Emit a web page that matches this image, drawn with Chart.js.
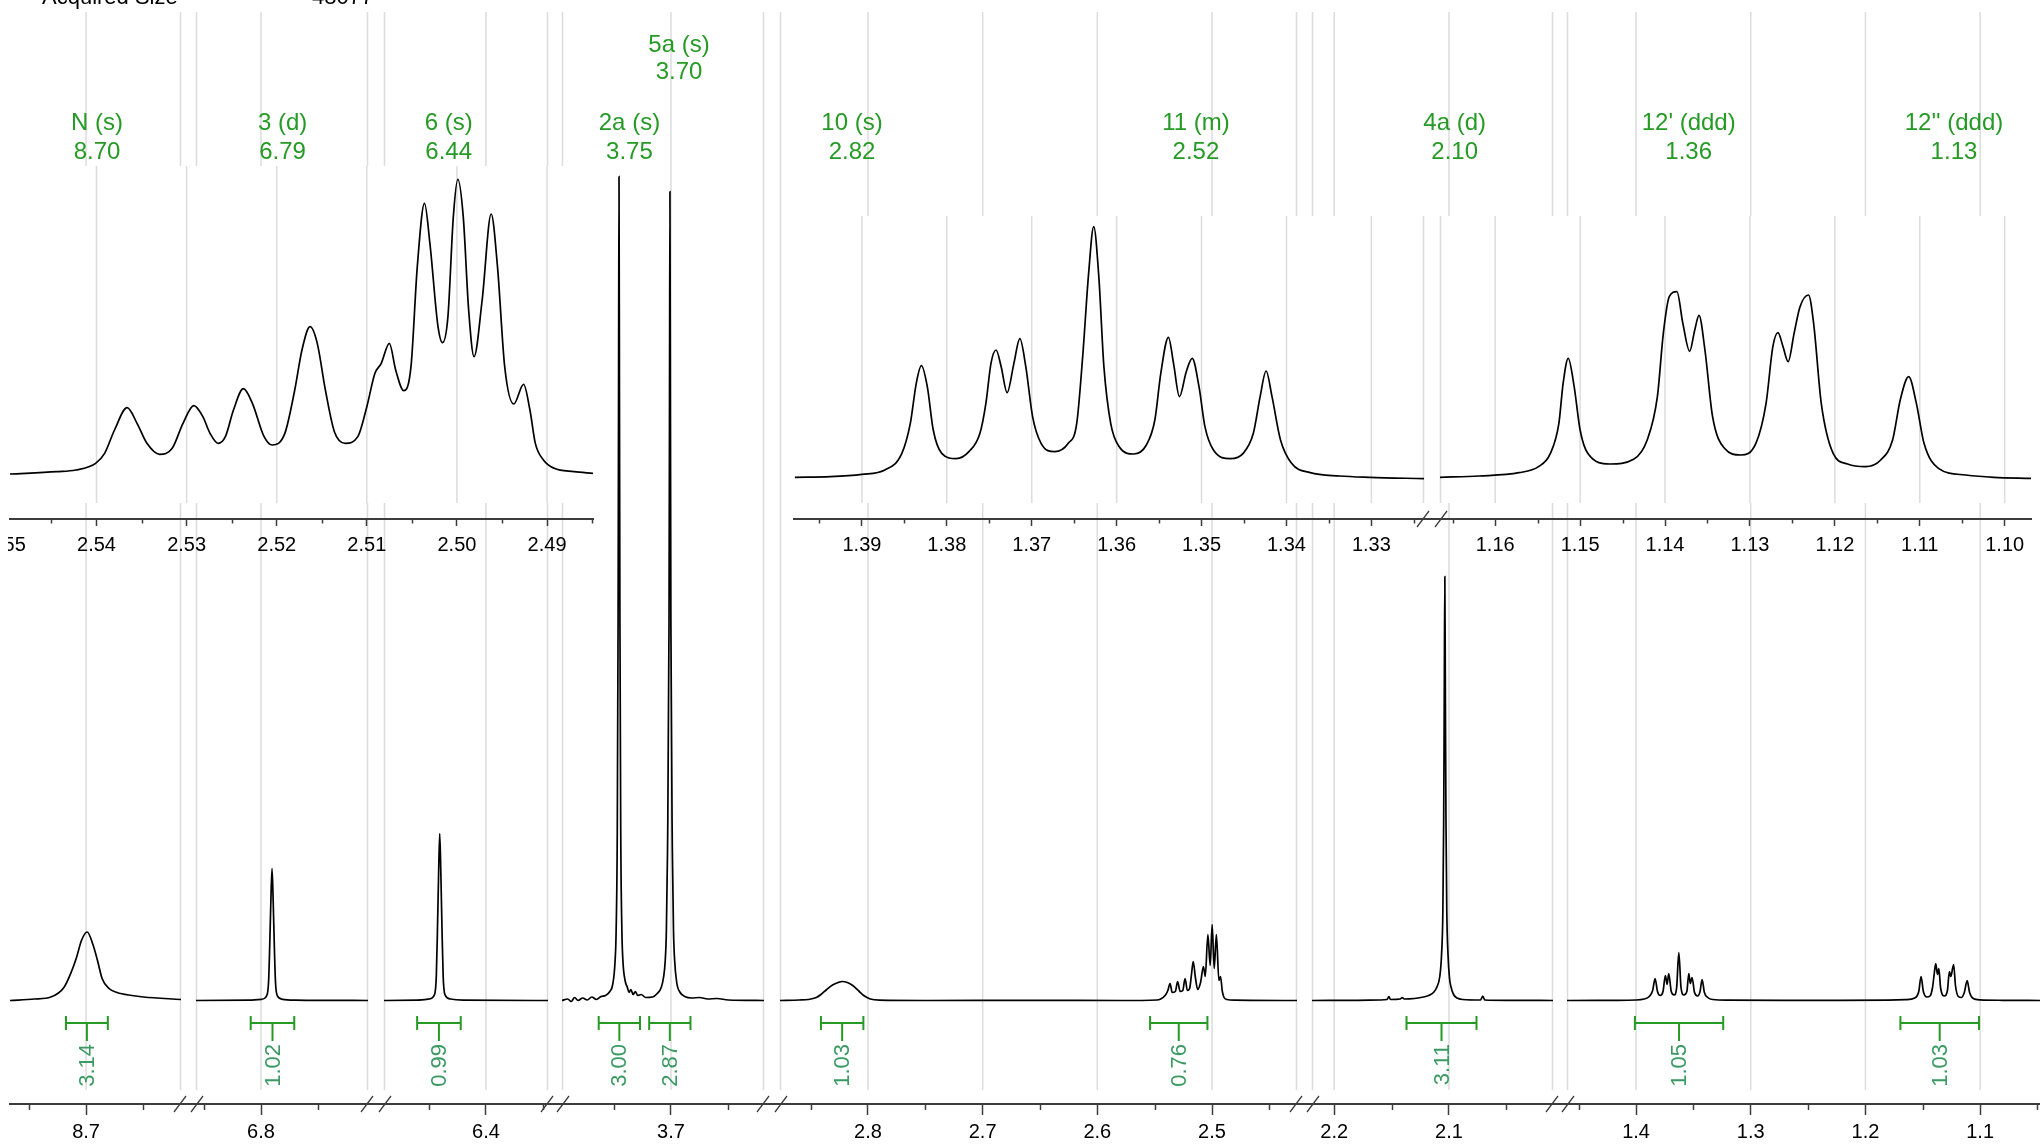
<!DOCTYPE html>
<html>
<head>
<meta charset="utf-8">
<script src="https://cdn.jsdelivr.net/npm/chart.js"></script>
<style>
html, body { margin: 0; padding: 0; background: #fff; }
#stage { position: relative; width: 2040px; height: 1145px; overflow: hidden; background: #fff; }
#stage canvas { position: absolute; left: 0; top: 0; }
</style>
</head>
<body>
<div id="stage"></div>
<script>
// spectrum traces, [ppm, intensity]
const peakNH = [[8.7663,0],[8.745,0.15],[8.7307,0.35],[8.7193,1.3],[8.7127,2.9],[8.7083,4.3],[8.704,6.0],[8.699,6.85],[8.694,5.6],[8.690,4.0],[8.686,2.2],[8.680,1.2],[8.673,0.8],[8.660,0.5],[8.650,0.35],[8.6172,0.1]];
const peakH3 = [[6.8567,0],[6.81,0.04],[6.7996,0.12],[6.7949,0.5],[6.7934,1.9],[6.7924,5.5],[6.7914,10],[6.7904,13.2],[6.7894,10],[6.7884,5.5],[6.7874,1.9],[6.7859,0.5],[6.7812,0.12],[6.77,0.04],[6.7067,0]];
const peakH6 = [[6.4889,0],[6.46,0.04],[6.4495,0.15],[6.4448,0.6],[6.4433,2.4],[6.4423,7],[6.4413,12.6],[6.4403,16.7],[6.4393,12.6],[6.4383,7],[6.4373,2.4],[6.4358,0.6],[6.431,0.15],[6.42,0.04],[6.3459,0]];
const peaksH2aH5a = [[3.795,0],[3.790,0.15],[3.787,-0.1],[3.784,0.3],[3.781,0.0],[3.777,0.25],[3.773,0.05],[3.769,0.35],[3.765,0.1],[3.761,0.4],[3.757,0.5],[3.7533,0.9],[3.7508,1.6],[3.7488,3.8],[3.7478,7],[3.7468,17],[3.7461,38],[3.7457,60],[3.7453,82.4],[3.7449,60],[3.7445,38],[3.7438,17],[3.7428,7],[3.7418,3.8],[3.7400,2.0],[3.738,1.3],[3.7365,0.8],[3.735,1.1],[3.733,0.6],[3.731,0.9],[3.729,0.5],[3.726,0.6],[3.722,0.3],[3.716,0.35],[3.712,0.7],[3.7085,1.3],[3.7065,2.3],[3.7050,4],[3.7040,7],[3.7030,15],[3.7017,38],[3.7013,58],[3.7009,80.9],[3.7005,58],[3.7001,38],[3.6988,15],[3.6978,7],[3.6968,4],[3.6950,1.8],[3.692,0.8],[3.688,0.4],[3.682,0.25],[3.675,0.3],[3.668,0.15],[3.66,0.2],[3.65,0.05],[3.6189,0]];
const peaksH10H11 = [[2.8767,0],[2.86,0.05],[2.852,0.1],[2.845,0.3],[2.841,0.6],[2.836,1.1],[2.8309,1.55],[2.826,1.8],[2.8223,1.9],[2.818,1.8],[2.8133,1.5],[2.808,0.95],[2.8037,0.5],[2.798,0.15],[2.79,0.03],[2.75,0],[2.65,0.02],[2.58,0],[2.548,0.05],[2.5448,0.15],[2.5409,0.5],[2.5385,1.0],[2.5366,1.7],[2.5347,0.8],[2.5320,0.9],[2.5300,1.9],[2.5278,0.9],[2.5255,1.0],[2.5235,2.2],[2.5215,1.0],[2.5195,1.2],[2.5180,2.5],[2.5164,3.9],[2.5145,2.3],[2.5125,1.1],[2.5100,1.8],[2.5075,3.4],[2.5059,2.4],[2.5036,6.6],[2.5016,3.5],[2.4999,7.6],[2.4981,3.2],[2.4962,6.6],[2.4940,2.0],[2.4926,2.4],[2.4910,0.9],[2.4895,0.3],[2.487,0.1],[2.48,0.03],[2.4259,0]];
const peakH4a = [[2.2194,0],[2.18,0.02],[2.16,0.05],[2.154,0.1],[2.1524,0.4],[2.151,0.1],[2.1425,0.15],[2.1407,0.3],[2.139,0.15],[2.13,0.2],[2.122,0.35],[2.1178,0.5],[2.1135,0.8],[2.1107,1.3],[2.108,2.4],[2.1065,4.5],[2.1053,9],[2.1046,18],[2.1041,30],[2.1036,42.4],[2.1031,30],[2.1026,18],[2.1019,9],[2.1008,4.5],[2.0995,2.2],[2.0983,1.4],[2.096,0.6],[2.093,0.25],[2.088,0.1],[2.0725,0.05],[2.0705,0.45],[2.0688,0.05],[2.05,0.02],[2.0093,0]];
const peaksH12 = [[1.4602,0],[1.42,0.02],[1.40,0.05],[1.393,0.15],[1.3885,0.4],[1.3855,1.0],[1.3834,2.2],[1.3813,0.9],[1.379,0.5],[1.3765,0.9],[1.3744,2.5],[1.3729,1.6],[1.3715,2.7],[1.3693,0.9],[1.3668,0.55],[1.3646,1.3],[1.3627,4.8],[1.3608,1.3],[1.3583,0.55],[1.3557,0.9],[1.3540,2.7],[1.3527,1.7],[1.3512,2.3],[1.3490,0.8],[1.3463,0.45],[1.3442,0.9],[1.3424,2.1],[1.3404,0.8],[1.3375,0.3],[1.333,0.1],[1.32,0.04],[1.25,0.02],[1.18,0.03],[1.165,0.08],[1.157,0.25],[1.1535,0.9],[1.1515,2.4],[1.1495,0.9],[1.1465,0.35],[1.1437,0.45],[1.1415,1.3],[1.1400,2.7],[1.1387,3.7],[1.1372,2.6],[1.1360,3.2],[1.1345,1.3],[1.1311,0.45],[1.1285,1.0],[1.1268,2.9],[1.1256,2.4],[1.1231,3.6],[1.1215,1.5],[1.1190,0.4],[1.1164,0.3],[1.1138,0.8],[1.1113,2.0],[1.1092,0.8],[1.106,0.2],[1.10,0.06],[1.08,0.02],[1.0478,0]];

// expanded multiplets
const insetH11 = [[2.5496,-0.2],[2.5444,0.5],[2.5423,1.0],[2.5401,3.0],[2.5391,6.0],[2.5380,13.0],[2.5366,19.7],[2.5355,15.0],[2.5344,9.0],[2.5330,5.7],[2.5316,7.5],[2.5304,15.0],[2.5292,20.3],[2.5282,17.0],[2.5274,12.0],[2.5265,9.0],[2.5257,11.0],[2.5248,19.0],[2.5237,25.4],[2.5227,21.0],[2.5214,11.0],[2.5205,8.5],[2.5191,12.0],[2.5180,25.0],[2.5172,37.0],[2.5163,44.0],[2.5155,39.0],[2.5146,25.0],[2.5136,12.5],[2.5124,9.0],[2.5110,11.0],[2.5100,20.0],[2.5091,30.0],[2.5084,33.0],[2.5075,39.0],[2.5068,31.0],[2.5059,24.8],[2.5051,32.0],[2.5044,62.0],[2.5036,81.0],[2.5030,69.0],[2.5021,44.0],[2.5016,39.2],[2.5010,47.0],[2.5004,77.0],[2.4999,88.2],[2.4993,77.0],[2.4987,49.0],[2.4981,35.0],[2.4972,52.0],[2.4962,77.8],[2.4955,62.0],[2.4947,32.0],[2.4937,20.8],[2.4926,26.7],[2.4919,19.0],[2.4913,9.0],[2.4904,4.0],[2.4892,1.5],[2.4870,0.5],[2.4849,0.0]];
const insetH12a = [[1.3979,0],[1.3937,0.2],[1.3900,0.9],[1.3873,2.2],[1.3853,7.2],[1.3843,16.2],[1.3836,28.2],[1.3830,33.5],[1.3823,27.2],[1.3816,14.2],[1.3806,7.2],[1.3789,5.6],[1.3774,7.7],[1.3761,13.2],[1.3754,22.2],[1.3748,34.2],[1.3742,38.2],[1.3736,33.2],[1.3729,25.4],[1.3721,34.2],[1.3714,41.6],[1.3707,33.2],[1.3699,18.2],[1.3689,10.2],[1.3673,7.7],[1.3657,10.2],[1.3647,16.2],[1.3640,36.2],[1.3633,61.2],[1.3627,75.2],[1.3621,60.2],[1.3615,33.2],[1.3607,16.2],[1.3597,9.2],[1.3580,7.0],[1.3565,9.7],[1.3555,17.2],[1.3548,31.2],[1.3539,42.0],[1.3533,34.2],[1.3526,24.2],[1.3518,31.7],[1.3511,35.7],[1.3503,27.2],[1.3496,15.2],[1.3486,8.2],[1.3466,5.6],[1.3451,7.2],[1.3439,13.2],[1.3431,24.2],[1.3424,31.9],[1.3417,24.2],[1.3407,11.2],[1.3394,4.2],[1.3372,1.4],[1.3337,0.4],[1.3302,0],[1.3238,-0.4]];
const insetH12b = [[1.1665,0],[1.1619,0.4],[1.1572,1.4],[1.1549,3.2],[1.1535,7.2],[1.1525,16.2],[1.1520,28.2],[1.1514,35.7],[1.1507,27.2],[1.1500,14.2],[1.1491,7.2],[1.1465,4.0],[1.1437,5.4],[1.1421,11.2],[1.1409,24.2],[1.1402,43.2],[1.1395,54.2],[1.1386,55.7],[1.1379,46.2],[1.1371,37.8],[1.1365,44.2],[1.1360,48.6],[1.1353,38.2],[1.1344,18.2],[1.1330,8.7],[1.1311,6.7],[1.1293,10.2],[1.1281,22.2],[1.1273,39.2],[1.1267,43.4],[1.1261,39.2],[1.1255,34.7],[1.1248,43.2],[1.1241,51.2],[1.1231,54.7],[1.1225,46.2],[1.1216,22.2],[1.1202,7.2],[1.1185,4.0],[1.1164,3.2],[1.1146,5.2],[1.1132,11.2],[1.1123,23.2],[1.1113,30.2],[1.1104,22.2],[1.1095,10.2],[1.1078,2.7],[1.1046,0.7],[1.1013,0],[1.0969,-0.3]];

// tick labels
const mainTickLabels = ['8.7', '6.8', '6.4', '3.7', '2.8', '2.7', '2.6', '2.5', '2.2', '2.1', '1.4', '1.3', '1.2', '1.1'];
const insetTickLabels = ['2.54', '2.53', '2.52', '2.51', '2.50', '2.49', '1.39', '1.38', '1.37', '1.36', '1.35', '1.34', '1.33', '1.16', '1.15', '1.14', '1.13', '1.12', '1.11', '1.10'];

// assignments
const peakNames = ['N (s)', '3 (d)', '6 (s)', '2a (s)', '5a (s)', '10 (s)', '11 (m)', '4a (d)', "12' (ddd)", "12'' (ddd)"];
const peakShifts = ['8.70', '6.79', '6.44', '3.75', '3.70', '2.82', '2.52', '2.10', '1.36', '1.13'];
const labelPpm = [8.6904, 6.7812, 6.4325, 3.7362, 3.6930, 2.8139, 2.5140, 2.0950, 1.3541, 1.1228];
const labelRow = [0, 0, 0, 0, 1, 0, 0, 0, 0, 0];

// integrals
const integralFrom = [8.7175, 6.809, 6.460, 3.763, 3.719, 2.841, 2.554, 2.137, 1.401, 1.1695];
const integralTo = [8.681, 6.771, 6.422, 3.727, 3.683, 2.804, 2.504, 2.076, 1.324, 1.101];
const integralValues = ['3.14', '1.02', '0.99', '3.00', '2.87', '1.03', '0.76', '3.11', '1.05', '1.03'];

const W = 2040, H = 1145, AXIS_H = 41;
const FONT = "'Liberation Sans', Arial, Helvetica, sans-serif";
const GREEN = '#259a25', INT_GREEN = '#3a9a62', GRID = '#dcdcdc', AXIS = '#3c3c3c';
const LABEL_ROWS = [[123, 152], [45, 72]];
Chart.defaults.font.family = FONT;

const MAIN = { top: 12, axisY: 1104, gridEnd: 1090, yMin: -10.35, yMax: 98.85, step: 0.05, labels: mainTickLabels, dec: 1, majorLen: 11, minorLen: 6, pad: 5 };
const INSET_L = { top: 166, axisY: 519, gridEnd: 503, yMin: -13.7, yMax: 92.2, step: 0.005, labels: insetTickLabels, dec: 2, majorLen: 7, minorLen: 4.5, pad: 7 };
const INSET_R = Object.assign({}, INSET_L, { top: 216, yMin: -12.5, yMax: 78.4 });

const mainSegments = [
  { ppm: [8.7663, 8.6172], px: [10, 181], points: peakNH },
  { ppm: [6.8567, 6.7067], px: [196, 368], points: peakH3 },
  { ppm: [6.4889, 6.3459], px: [384, 548], points: peakH6 },
  { ppm: [3.7950, 3.6189], px: [562, 764], points: peaksH2aH5a },
  { ppm: [2.8767, 2.4259], px: [780, 1297], points: peaksH10H11 },
  { ppm: [2.2194, 2.0093], px: [1312, 1553], points: peakH4a },
  { ppm: [1.4602, 1.0478], px: [1567, 2040], points: peaksH12 }
];
const insetSegments = [
  { ppm: [2.5496, 2.4849], px: [10, 593], points: insetH11, kind: INSET_L, white: [10, 596] },
  { ppm: [1.3980, 1.3238], px: [794, 1424], points: insetH12a, kind: INSET_R, white: [794, 1440], edgeR: true, nextLeft: 1440 },
  { ppm: [1.1665, 1.0969], px: [1440, 2031], points: insetH12b, kind: INSET_R, white: [1440, 2031], edgeL: true }
];

const stage = document.getElementById('stage');
const isIn = (list, v) => list.some(s => Math.abs(parseFloat(s) - v) < 1e-6);

function stepTicks(min, max, step) {
  const ticks = [];
  for (let k = Math.ceil(min / step - 1e-7); k * step <= max + 1e-9; k++) ticks.push({ value: +(k * step).toFixed(4) });
  return ticks;
}

function drawAnnotations(chart) {
  const { ctx, scales: { x } } = chart;
  const inRange = p => p <= x.max && p >= x.min;
  ctx.save();
  ctx.textAlign = 'center';
  ctx.textBaseline = 'middle';
  ctx.fillStyle = GREEN;
  ctx.font = '24px ' + FONT;
  peakNames.forEach((name, i) => {
    if (!inRange(labelPpm[i])) return;
    const px = x.getPixelForValue(labelPpm[i]);
    const rows = LABEL_ROWS[labelRow[i]];
    ctx.fillText(name, px, rows[0]);
    ctx.fillText(peakShifts[i], px, rows[1]);
  });
  integralValues.forEach((val, i) => {
    const mid = (integralFrom[i] + integralTo[i]) / 2;
    if (!inRange(mid)) return;
    const xa = x.getPixelForValue(integralFrom[i]);
    const xb = x.getPixelForValue(integralTo[i]);
    const xm = x.getPixelForValue(mid);
    ctx.strokeStyle = GREEN;
    ctx.lineWidth = 2;
    ctx.beginPath();
    ctx.moveTo(xa, 1023); ctx.lineTo(xb, 1023);
    ctx.moveTo(xa, 1016); ctx.lineTo(xa, 1030);
    ctx.moveTo(xb, 1016); ctx.lineTo(xb, 1030);
    ctx.moveTo(xm, 1023); ctx.lineTo(xm, 1041);
    ctx.stroke();
    ctx.save();
    ctx.translate(xm, 1044);
    ctx.rotate(-Math.PI / 2);
    ctx.fillStyle = INT_GREEN;
    ctx.font = '22px ' + FONT;
    ctx.textAlign = 'right';
    ctx.textBaseline = 'middle';
    ctx.fillText(val, 0, 1);
    ctx.restore();
  });
  ctx.restore();
}

function drawHeader(chart) {
  const ctx = chart.ctx;
  ctx.save();
  ctx.fillStyle = '#000';
  ctx.font = '22px ' + FONT;
  ctx.textAlign = 'left';
  ctx.textBaseline = 'alphabetic';
  ctx.fillText('Acquired Size', 42, 4);
  ctx.fillText('48077', 312, 4);
  ctx.restore();
}

function drawCutLabel(chart) {
  const { ctx, scales: { x } } = chart;
  const k = INSET_L;
  ctx.save();
  ctx.beginPath();
  ctx.rect(8, k.axisY + 2, 100, 40);
  ctx.clip();
  ctx.fillStyle = '#000';
  ctx.font = '20px ' + FONT;
  ctx.textAlign = 'center';
  ctx.textBaseline = 'middle';
  ctx.fillText('2.55', x.getPixelForValue(2.55), k.axisY + k.majorLen + k.pad + 12);
  ctx.restore();
}

function framePlugin(seg, kind) {
  const major = v => isIn(kind.labels, v);
  return {
    id: 'frame',
    beforeDraw(chart) {
      const { ctx, chartArea: a, scales: { x } } = chart;
      ctx.save();
      if (seg.white) {
        ctx.fillStyle = '#fff';
        ctx.fillRect(seg.white[0], a.top, seg.white[1] - seg.white[0], kind.gridEnd - a.top);
      }
      ctx.strokeStyle = GRID;
      ctx.lineWidth = 1.5;
      const vline = px => { ctx.beginPath(); ctx.moveTo(px, a.top); ctx.lineTo(px, kind.gridEnd); ctx.stroke(); };
      x.ticks.forEach(t => { if (major(t.value)) vline(x.getPixelForValue(t.value)); });
      if (seg.edgeL) vline(a.left + 0.5);
      if (seg.edgeR) vline(a.right - 0.5);
      ctx.restore();
    },
    afterDraw(chart) {
      const { ctx, chartArea: a, scales: { x } } = chart;
      const y0 = kind.axisY;
      ctx.save();
      ctx.strokeStyle = AXIS;
      ctx.lineWidth = 1.5;
      x.ticks.forEach(t => {
        if (major(t.value)) return;
        const px = Math.round(x.getPixelForValue(t.value)) + 0.5;
        ctx.beginPath(); ctx.moveTo(px, y0); ctx.lineTo(px, y0 + kind.minorLen); ctx.stroke();
      });
      if (seg.nextLeft) {
        ctx.lineWidth = 2;
        ctx.beginPath(); ctx.moveTo(a.right, y0); ctx.lineTo(seg.nextLeft, y0); ctx.stroke();
        ctx.lineWidth = 1.3;
        [a.right - 1, seg.nextLeft + 1].forEach(cx => {
          ctx.beginPath(); ctx.moveTo(cx - 6, y0 + 8); ctx.lineTo(cx + 6, y0 - 8); ctx.stroke();
        });
      }
      ctx.restore();
      (seg.extras || []).forEach(f => f(chart));
    }
  };
}

function makeChart(seg, kind) {
  const canvas = document.createElement('canvas');
  canvas.width = W;
  canvas.height = H;
  stage.appendChild(canvas);
  const major = v => isIn(kind.labels, v);
  return new Chart(canvas, {
    type: 'line',
    data: {
      datasets: [{
        data: seg.points.map(p => ({ x: p[0], y: p[1] })),
        borderColor: '#000',
        borderWidth: 1.7,
        pointRadius: 0,
        fill: false,
        cubicInterpolationMode: 'monotone'
      }]
    },
    options: {
      responsive: false,
      animation: false,
      devicePixelRatio: 1,
      events: [],
      layout: {
        autoPadding: false,
        padding: { left: seg.px[0], right: W - seg.px[1], top: kind.top, bottom: H - kind.axisY - AXIS_H }
      },
      plugins: { legend: { display: false }, tooltip: { enabled: false }, title: { display: false } },
      scales: {
        x: {
          type: 'linear',
          reverse: true,
          min: seg.ppm[1],
          max: seg.ppm[0],
          afterBuildTicks: s => { s.ticks = stepTicks(s.min, s.max, kind.step); },
          afterFit: s => { s.height = AXIS_H; },
          ticks: {
            autoSkip: false,
            maxRotation: 0,
            minRotation: 0,
            padding: kind.pad,
            color: '#000',
            font: { family: FONT, size: 20 },
            callback: v => major(v) ? Number(v).toFixed(kind.dec) : ''
          },
          grid: {
            drawOnChartArea: false,
            drawTicks: true,
            tickLength: kind.majorLen,
            tickColor: AXIS,
            tickWidth: c => (c.tick && major(c.tick.value)) ? 1.5 : 0
          },
          border: { display: true, color: AXIS, width: 2 }
        },
        y: { display: false, min: kind.yMin, max: kind.yMax }
      }
    },
    plugins: [framePlugin(seg, kind)]
  });
}

mainSegments.forEach((seg, i) => {
  seg.edgeL = i > 0;
  seg.edgeR = i < mainSegments.length - 1;
  if (seg.edgeR) seg.nextLeft = mainSegments[i + 1].px[0];
  seg.extras = i === 0 ? [drawAnnotations, drawHeader] : [drawAnnotations];
  makeChart(seg, MAIN);
});
insetSegments[0].extras = [drawCutLabel];
insetSegments.forEach(seg => makeChart(seg, seg.kind));
</script>
</body>
</html>
